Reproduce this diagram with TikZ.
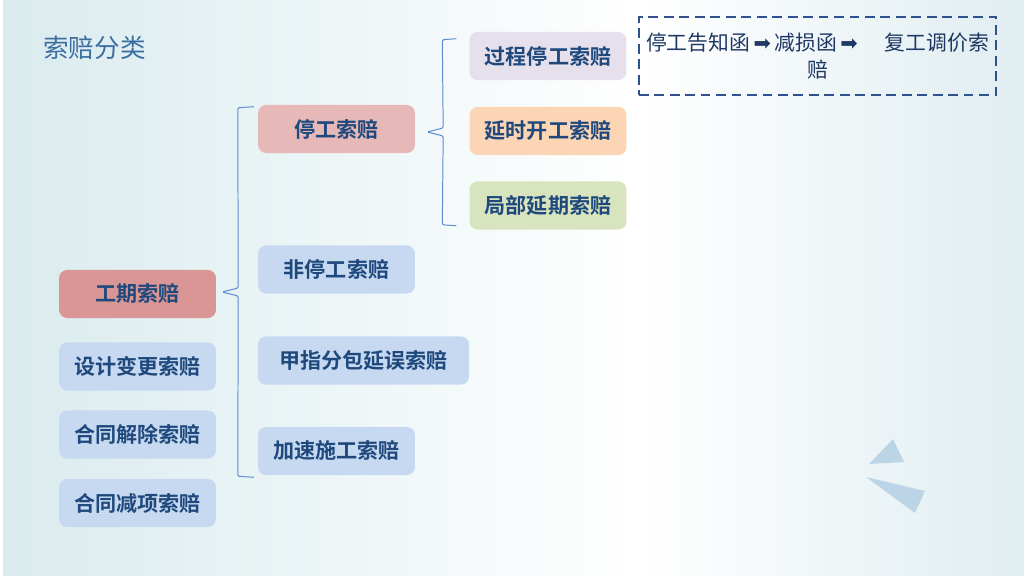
\documentclass[tikz,border=0pt]{standalone}
\usepackage{fontspec}
\setmainfont{Noto Sans CJK SC}[BoldFont={Noto Sans CJK SC Bold}]
\newfontfamily\arrowfont{DejaVu Sans}
\usepackage{tikz}
\usetikzlibrary{calc}
\usepackage{xcolor}
\definecolor{claim_text}{HTML}{1F497D}
\definecolor{claim_title}{HTML}{3B6EA3}
\definecolor{claim_red}{HTML}{D99694}
\definecolor{claim_pink}{HTML}{E6B9B8}
\definecolor{claim_blue}{HTML}{C6D9F1}
\definecolor{claim_lilac}{HTML}{E6E0EC}
\definecolor{claim_peach}{HTML}{FCD5B5}
\definecolor{claim_green}{HTML}{D7E4BD}
\definecolor{brace_blue}{HTML}{5B8BD0}
\definecolor{note_blue}{HTML}{2F528F}
\definecolor{note_text}{HTML}{1F3864}
\definecolor{tri_blue}{HTML}{BCD5E6}
\definecolor{bg_left}{HTML}{DAEBEE}
\definecolor{bg_right}{HTML}{E0EDF1}

\begin{document}
\begin{tikzpicture}[
    x=0.025cm, y=-0.025cm,
    claim/.style={rounded corners=0.2cm, minimum width=3.92cm, minimum height=1.2cm, inner sep=0pt,
        font=\fontsize{15}{18}\selectfont\bfseries, text=claim_text},
    brace/.style={brace_blue, line width=0.7pt, rounded corners=1pt}
]
    \useasboundingbox (0,0) rectangle (1024,576);
    \shade[left color=bg_left, right color=white] (3,0) rectangle (640,576);
    \shade[left color=white, right color=bg_right] (640,0) rectangle (1024,576);

    \node[font=\fontsize{18.2}{22}\selectfont, text=claim_title, anchor=west, inner sep=0pt] (title) at (43,48) {索赔分类};

    \node[claim, fill=claim_red] (gq) at (137.5,294) {工期索赔};
    \foreach \y/\t/\n in {366.5/设计变更索赔/sj, 434.5/合同解除索赔/jc, 503/合同减项索赔/jx}
        \node[claim, fill=claim_blue] (\n) at (137.5,\y) {\t};

    \node[claim, fill=claim_pink] (tg) at (336.5,129) {停工索赔};
    \node[claim, fill=claim_blue] (ftg) at (336.5,269.5) {非停工索赔};
    \node[claim, fill=claim_blue, minimum width=5.28cm] (jz) at (363.5,360.5) {甲指分包延误索赔};
    \node[claim, fill=claim_blue] (js) at (336.5,451) {加速施工索赔};

    \node[claim, fill=claim_lilac] (gc) at (548,56) {过程停工索赔};
    \node[claim, fill=claim_peach] (ys) at (548,131) {延时开工索赔};
    \node[claim, fill=claim_green] (jb) at (548,205.5) {局部延期索赔};

    \coordinate (b1n) at ($(gq.east)+(6,-2)$);
    \draw[brace] ($(tg.north west)+(-4,2)$) -- ++(-16,1) -- ($(b1n)+(16,-4)$) -- (b1n)
        -- ($(b1n)+(16,4)$) -- ($(js.south west)+(-20,1)$) -- ++(16,1);
    \coordinate (b2n) at ($(tg.east)+(12,3)$);
    \draw[brace] ($(gc.north west)+(-13,7)$) -- ++(-14,1) -- ($(b2n)+(16,-4)$) -- (b2n)
        -- ($(b2n)+(16,4)$) -- ($(jb.south west)+(-27,-5)$) -- ++(14,1);

    \node[draw=note_blue, line width=1.5pt, dash pattern=on 7pt off 4pt, minimum width=8.9cm, minimum height=1.95cm,
        text width=8.7cm, align=center, font=\fontsize{14.8}{19}\selectfont, text=note_text] (note) at (817.5,56)
        {停工告知函\,{\arrowfont ➡}\,减损函\,{\arrowfont ➡}\hspace{1.3em}复工调价索\\赔};

    \fill[tri_blue] (893,439) -- (869,464) -- (904,462) -- cycle;
    \fill[tri_blue] (866,477) -- (925,491) -- (915,513) -- cycle;
\end{tikzpicture}
\end{document}
